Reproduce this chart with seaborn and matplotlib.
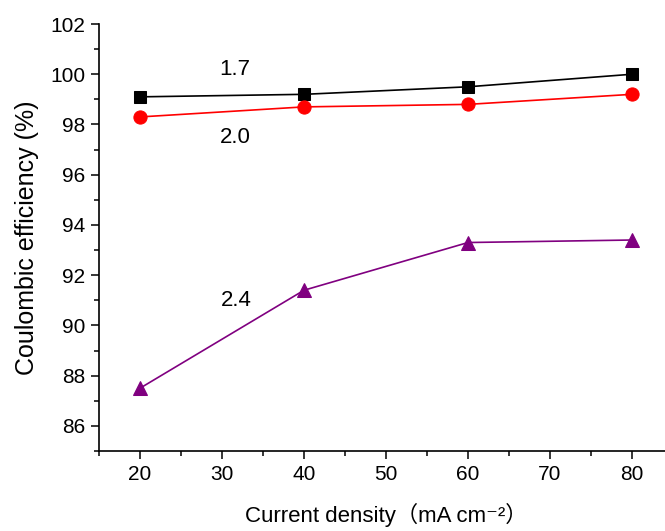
import matplotlib
matplotlib.use("Agg")
import matplotlib.pyplot as plt
from matplotlib.ticker import MultipleLocator
import seaborn as sns
import pandas as pd

current_density = [20, 40, 60, 80]
eff_17 = [99.1, 99.2, 99.5, 100.0]
eff_20 = [98.3, 98.7, 98.8, 99.2]
eff_24 = [87.5, 91.4, 93.3, 93.4]
series_labels = ["1.7", "2.0", "2.4"]

sns.set_theme(style="ticks")
plt.rcParams['font.family'] = ['Liberation Sans', 'Noto Sans CJK SC', 'DejaVu Sans']
plt.rcParams['text.color'] = 'black'
plt.rcParams['axes.labelcolor'] = 'black'

fig = plt.figure(figsize=(6.65, 5.31), dpi=100)
ax = fig.add_axes([99/665, 80/531, 574/665, 427/531])

series = [
    (eff_17, "black", "s", 8),
    (eff_20, "#ff0000", "o", 9.5),
    (eff_24, "#800080", "^", 9.5),
]
for vals, col, mk, ms in series:
    df = pd.DataFrame({"x": current_density, "y": vals})
    sns.lineplot(data=df, x="x", y="y", ax=ax, color=col, marker=mk,
                 markersize=ms, markeredgecolor=col, linewidth=1.2, legend=False)

ax.set_xlim(15, 85)
ax.set_ylim(85, 102)
ax.xaxis.set_minor_locator(MultipleLocator(5))
ax.yaxis.set_minor_locator(MultipleLocator(1))
ax.set_xticks([20, 30, 40, 50, 60, 70, 80])
ax.set_yticks([86, 88, 90, 92, 94, 96, 98, 100, 102])

ax.tick_params(which="major", direction="out", length=6, width=1.1,
               labelsize=15, colors="black", labelcolor="black", pad=4)
ax.tick_params(which="minor", direction="out", length=3.5, width=1.1, colors="black")
for s in ["top", "right"]:
    ax.spines[s].set_visible(False)
for s in ["left", "bottom"]:
    ax.spines[s].set_linewidth(1.2)
    ax.spines[s].set_color("black")

ax.set_xlabel("Current density（mA cm⁻²）", fontsize=16, labelpad=14, color="black")
ax.set_ylabel("Coulombic efficiency (%)", fontsize=18, labelpad=8, color="black")

ax.text(31.6, 100.2, series_labels[0], fontsize=16, ha="center", va="center", color="black")
ax.text(31.6, 97.5, series_labels[1], fontsize=16, ha="center", va="center", color="black")
ax.text(31.8, 91.0, series_labels[2], fontsize=16, ha="center", va="center", color="black")

fig.savefig("out.png", dpi=100)
